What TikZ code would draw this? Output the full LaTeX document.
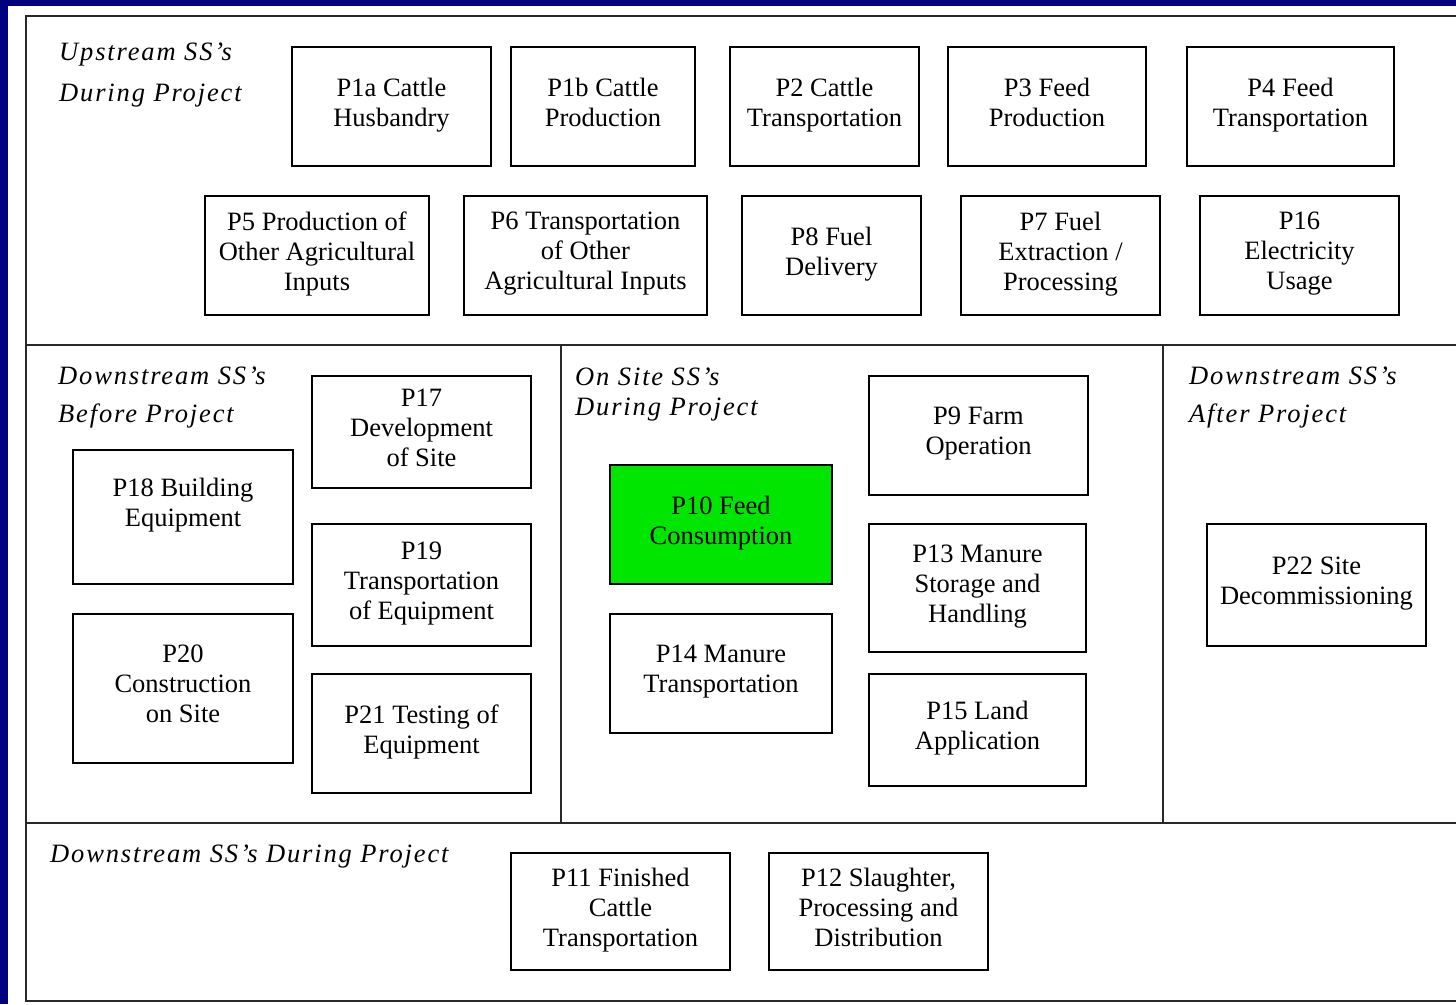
\documentclass[tikz,border=0pt]{standalone}
\usepackage{fontspec}
\setmainfont{Liberation Serif}
\newfontfamily\lblfont[LetterSpace=7]{Liberation Serif}
\definecolor{slideblue}{RGB}{2,2,128}
\definecolor{feedgreen}{RGB}{0,230,0}
\definecolor{framegray}{RGB}{40,40,40}
\tikzset{
  pbox/.style={draw=black, line width=2pt, fill=white, inner sep=0pt, align=center,
    font=\fontsize{26.5}{30}\selectfont,
    execute at begin node=\strut, execute at end node=\strut},
  lbl/.style={anchor=base west, inner sep=0pt, font=\lblfont\itshape\fontsize{26.5}{30}\selectfont},
  frameline/.style={draw=framegray, line width=2.5pt}
}
\begin{document}
\begin{tikzpicture}[x=1pt,y=-1pt]
\useasboundingbox (0,0) rectangle (1456,1004);
\fill[slideblue] (0,0) rectangle (1456,1004);
\fill[white] (8,6) rectangle (1470,1012);
% frame
\draw[frameline] (1470,16) -- (26,16) -- (26,1001) -- (1470,1001);
\draw[frameline] (26,345) -- (1470,345);
\draw[frameline] (26,823) -- (1470,823);
\draw[frameline] (561,345) -- (561,823);
\draw[frameline] (1163,345) -- (1163,823);
% labels
\node[lbl] (up1) at (59,60) {Upstream SS’s};
\node[lbl] (up2) at (59,101) {During Project};
\node[lbl] (db1) at (58,384) {Downstream SS’s};
\node[lbl] (db2) at (58,422) {Before Project};
\node[lbl] (os1) at (575,385) {On Site SS’s};
\node[lbl] (os2) at (575,415) {During Project};
\node[lbl] (da1) at (1189,384) {Downstream SS’s};
\node[lbl] (da2) at (1189,422) {After Project};
\node[lbl] (dd1) at (50,862) {Downstream SS’s During Project};
% row 1
\node[pbox, minimum width=199pt, minimum height=119pt] (p1a) at (391.5,106.5) {P1a Cattle\\Husbandry};
\node[pbox, minimum width=184pt, minimum height=119pt] (p1b) at (603,106.5) {P1b Cattle\\Production};
\node[pbox, minimum width=189pt, minimum height=119pt] (p2) at (824.5,106.5) {P2 Cattle\\Transportation};
\node[pbox, minimum width=198pt, minimum height=119pt] (p3) at (1047,106.5) {P3 Feed\\Production};
\node[pbox, minimum width=207pt, minimum height=119pt] (p4) at (1290.5,106.5) {P4 Feed\\Transportation};
% row 2
\node[pbox, minimum width=224pt, minimum height=119pt] (p5) at (317,255.5) {P5 Production of\\Other Agricultural\\Inputs};
\node[pbox, minimum width=243pt, minimum height=119pt] (p6) at (585.5,255.5) {P6 Transportation\\of Other\\Agricultural Inputs};
\node[pbox, minimum width=179pt, minimum height=119pt] (p8) at (831.5,255.5) {P8 Fuel\\Delivery};
\node[pbox, minimum width=199pt, minimum height=119pt] (p7) at (1060.5,255.5) {P7 Fuel\\Extraction /\\Processing};
\node[pbox, minimum width=199pt, minimum height=119pt] (p16) at (1299.5,255.5) {P16\\Electricity\\Usage};
% before project
\node[pbox, minimum width=219pt, minimum height=112pt] (p17) at (421.5,432) {P17\\Development\\of Site};
\node[pbox, minimum width=220pt, minimum height=134pt] (p18) at (183,517) {P18 Building\\Equipment\\[-10pt]};
\node[pbox, minimum width=219pt, minimum height=122pt] (p19) at (421.5,585) {P19\\Transportation\\of Equipment};
\node[pbox, minimum width=220pt, minimum height=149pt] (p20) at (183,688.5) {P20\\Construction\\on Site};
\node[pbox, minimum width=219pt, minimum height=119pt] (p21) at (421.5,733.5) {P21 Testing of\\Equipment};
% on site
\node[pbox, minimum width=219pt, minimum height=119pt] (p9) at (978.5,435.5) {P9 Farm\\Operation};
\node[pbox, fill=feedgreen, minimum width=222pt, minimum height=119pt] (p10) at (721,524.5) {P10 Feed\\Consumption};
\node[pbox, minimum width=217pt, minimum height=128pt] (p13) at (977.5,588) {P13 Manure\\Storage and\\Handling};
\node[pbox, minimum width=222pt, minimum height=119pt] (p14) at (721,673.5) {P14 Manure\\Transportation};
\node[pbox, minimum width=217pt, minimum height=112pt] (p15) at (977.5,730) {P15 Land\\Application};
% after project
\node[pbox, minimum width=219pt, minimum height=122pt] (p22) at (1316.5,585) {P22 Site\\Decommissioning};
% downstream during
\node[pbox, minimum width=219pt, minimum height=117pt] (p11) at (620.5,911.5) {P11 Finished\\Cattle\\Transportation};
\node[pbox, minimum width=219pt, minimum height=117pt] (p12) at (878.5,911.5) {P12 Slaughter,\\Processing and\\Distribution};
\end{tikzpicture}
\end{document}
